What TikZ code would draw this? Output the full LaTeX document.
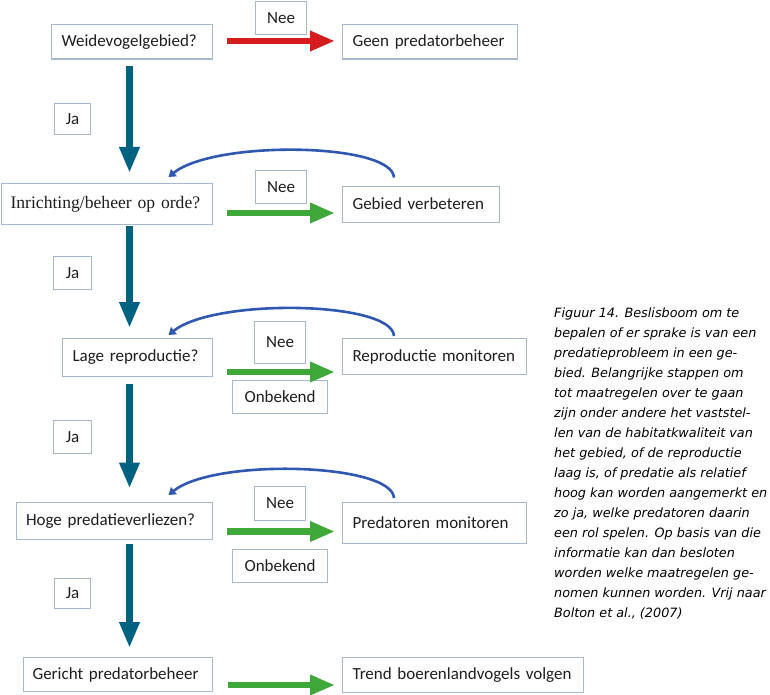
\documentclass[tikz,border=0pt]{standalone}
\usepackage{fontspec}
\setmainfont{Carlito}
\newfontfamily\serifbox{Liberation Serif}
\newfontfamily\capfont{DejaVu Sans}
\usetikzlibrary{arrows.meta,calc}
\definecolor{boxline}{RGB}{165,185,205}
\definecolor{mteal}{RGB}{0,98,128}
\definecolor{mred}{RGB}{214,28,28}
\definecolor{mgreen}{RGB}{62,168,56}
\definecolor{mblue}{RGB}{48,88,178}
\definecolor{txt}{RGB}{30,30,30}
\begin{document}
\begin{tikzpicture}[x=1pt,y=-1pt,
  box/.style={draw=boxline, line width=1.1pt, anchor=north west, inner xsep=10pt, inner ysep=0pt,
    align=left, font=\fontsize{17}{20}\selectfont, text=txt},
  lab/.style={draw=boxline, line width=1.1pt, anchor=north west, inner sep=0pt,
    align=center, font=\fontsize{17}{20}\selectfont, text=txt},
  tarrow/.style={draw=mteal, line width=7pt, -{Triangle[length=26pt,width=19pt]}},
  rarrow/.style={draw=mred, line width=6.5pt, -{Triangle[length=25pt,width=19pt]}},
  garrow/.style={draw=mgreen, line width=6.5pt, -{Triangle[length=25pt,width=19pt]}},
  larrow/.style={draw=mblue, line width=2.6pt, -{Triangle[length=7pt,width=9pt]}},
  capline/.style={anchor=base west, inner sep=0pt, text=black, font=\capfont\itshape\fontsize{12.8}{20}\selectfont}
]
\useasboundingbox[fill=white] (0,0) rectangle (770,695);

% main boxes
\node[box, text width=141pt, minimum height=34.5pt] (A) at (51,24) {Weidevogelgebied?};
\node[box, text width=155pt, minimum height=34.5pt] (GP) at (342,24) {Geen predatorbeheer};
\node[box, inner xsep=9pt, text width=193pt, minimum height=41pt, font=\serifbox\fontsize{17.6}{20}\selectfont] (B) at (1,183) {Inrichting/beheer op orde?};
\node[box, text width=137pt, minimum height=36pt] (GV) at (342,185.5) {Gebied verbeteren};
\node[box, text width=130pt, minimum height=38pt] (C) at (62,338) {Lage reproductie?};
\node[box, text width=164pt, minimum height=36pt] (RM) at (342,338) {Reproductie monitoren};
\node[box, text width=176.5pt, minimum height=37pt] (D) at (15.5,502) {Hoge predatieverliezen?};
\node[box, text width=164pt, minimum height=41pt] (PM) at (342,502) {Predatoren monitoren};
\node[box, inner xsep=9pt, text width=171pt, minimum height=34pt] (E) at (23,657) {Gericht predatorbeheer};
\node[box, text width=221pt, minimum height=35pt] (T) at (342,657) {Trend boerenlandvogels volgen};

% labels
\node[lab, minimum width=51pt, minimum height=33pt] (N1) at (255,1) {Nee};
\node[lab, minimum width=51pt, minimum height=33pt] (N2) at (255,170) {Nee};
\node[lab, minimum width=51pt, minimum height=42pt] (N3) at (254,321) {Nee};
\node[lab, minimum width=95pt, minimum height=33pt] (O1) at (232,380) {Onbekend};
\node[lab, minimum width=51pt, minimum height=34pt] (N4) at (254,486) {Nee};
\node[lab, minimum width=95pt, minimum height=33pt] (O2) at (232,549) {Onbekend};
\node[lab, minimum width=36pt, minimum height=31pt] (J1) at (54,103) {Ja};
\node[lab, minimum width=38pt, minimum height=33pt] (J2) at (53,256) {Ja};
\node[lab, minimum width=38pt, minimum height=33pt] (J3) at (53,420) {Ja};
\node[lab, minimum width=36pt, minimum height=30pt] (J4) at (54,578) {Ja};

% helper coordinates
\coordinate (cx) at (129.5,0);
\coordinate (h1) at (0,41);
\coordinate (h2) at (0,213);
\coordinate (h3) at (0,372);
\coordinate (h4) at (0,531.5);
\coordinate (h5) at (0,685);
\coordinate (lr) at (394,0);
\coordinate (ll) at (168.5,0);

% vertical teal arrows
\draw[tarrow] ($(A.south -| cx)+(0,6.5)$) -- ($(B.north -| cx)+(0,-10)$);
\draw[tarrow] ($(B.south -| cx)+(0,1)$) -- ($(C.north -| cx)+(0,-10)$);
\draw[tarrow] ($(C.south -| cx)+(0,7)$) -- ($(D.north -| cx)+(0,-13.5)$);
\draw[tarrow] ($(D.south -| cx)+(0,4)$) -- ($(E.north -| cx)+(0,-9)$);

% horizontal arrows
\draw[rarrow] ($(A.east |- h1)+(14,0)$) -- ($(GP.west |- h1)+(-7,0)$);
\draw[garrow] ($(B.east |- h2)+(14,0)$) -- ($(GV.west |- h2)+(-7,0)$);
\draw[garrow] ($(C.east |- h3)+(14,0)$) -- ($(RM.west |- h3)+(-7,0)$);
\draw[garrow] ($(D.east |- h4)+(14,0)$) -- ($(PM.west |- h4)+(-7,0)$);
\draw[garrow] ($(E.east |- h5)+(15,0)$) -- ($(T.west |- h5)+(-7,0)$);

% feedback loops
\draw[larrow] ($(GV.north -| lr)+(0,-8)$) .. controls +(-2,-35) and +(46,-37) .. ($(B.north -| ll)+(0,-6)$);
\draw[larrow] ($(RM.north -| lr)+(0,-2)$) .. controls +(-2,-35) and +(46,-37) .. ($(C.north -| ll)+(0,-3)$);
\draw[larrow] ($(PM.north -| lr)+(0,-4)$) .. controls +(-2,-35) and +(46,-37) .. ($(D.north -| ll)+(0,-7)$);

% caption
\node[capline] (c1) at (554,317) {Figuur 14. Beslisboom om te};
\node[capline] (c2) at (554,337) {bepalen of er sprake is van een};
\node[capline] (c3) at (554,357) {predatieprobleem in een ge-};
\node[capline] (c4) at (554,377) {bied. Belangrijke stappen om};
\node[capline] (c5) at (554,397) {tot maatregelen over te gaan};
\node[capline] (c6) at (554,417) {zijn onder andere het vaststel-};
\node[capline] (c7) at (554,437) {len van de habitatkwaliteit van};
\node[capline] (c8) at (554,457) {het gebied, of de reproductie};
\node[capline] (c9) at (554,477) {laag is, of predatie als relatief};
\node[capline] (c10) at (554,497) {hoog kan worden aangemerkt en};
\node[capline] (c11) at (554,517) {zo ja, welke predatoren daarin};
\node[capline] (c12) at (554,537) {een rol spelen. Op basis van die};
\node[capline] (c13) at (554,557) {informatie kan dan besloten};
\node[capline] (c14) at (554,577) {worden welke maatregelen ge-};
\node[capline] (c15) at (554,597) {nomen kunnen worden. Vrij naar};
\node[capline] (c16) at (554,617) {Bolton et al., (2007)};
\end{tikzpicture}
\end{document}
